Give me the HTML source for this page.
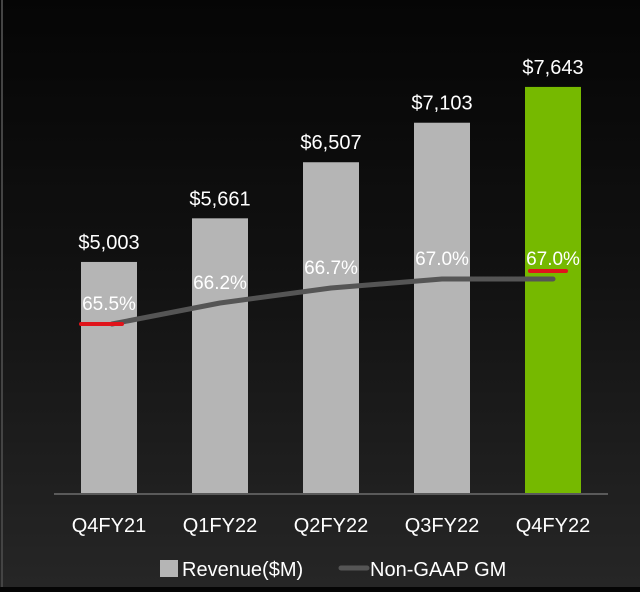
<!DOCTYPE html>
<html><head><meta charset="utf-8"><style>
html,body{margin:0;padding:0}
body{width:640px;height:587px;overflow:hidden;background:linear-gradient(#050505 0%,#111 45%,#262626 100%);font-family:"Liberation Sans",sans-serif}
svg text{font-family:"Liberation Sans",sans-serif}
</style></head><body>
<svg width="640" height="587">
<rect x="1" y="0" width="2" height="587" fill="#444"/>
<g id="bars"></g><g id="line"></g><g id="labels"></g>
<line x1="54" y1="494" x2="608" y2="494" stroke="#5a5a5a" stroke-width="2"/>
<g>
<rect x="160" y="560" width="18" height="17" fill="#b5b5b5"/>
<text x="182" y="576" fill="#fff" font-size="20">Revenue($M)</text>
<line x1="341" y1="568" x2="367" y2="568" stroke="#555" stroke-width="5" stroke-linecap="round"/>
<text x="370" y="576" fill="#fff" font-size="20">Non-GAAP GM</text>
</g>
</svg>
<script>
const categories=["Q4FY21","Q1FY22","Q2FY22","Q3FY22","Q4FY22"];
const revenue=[5003,5661,6507,7103,7643];
const revenueLabels=["$5,003","$5,661","$6,507","$7,103","$7,643"];
const gm=[65.5,66.2,66.7,67.0,67.0];
const gmLabels=["65.5%","66.2%","66.7%","67.0%","67.0%"];
const NS="http://www.w3.org/2000/svg";
const base=494;
function xc(i){return 109+i*111;}
function yRev(v){return base-(v-1503)*0.0663;}
function yGm(v){return 324-(v-65.5)*30;}
function mk(t,a,p){const e=document.createElementNS(NS,t);for(const k in a)e.setAttribute(k,a[k]);document.getElementById(p).appendChild(e);return e;}
categories.forEach((c,i)=>{
 const y=yRev(revenue[i]);
 const b=mk('rect',{x:xc(i)-28,y:y,width:56,height:base-y,fill:i==4?'#76b900':'#b5b5b5'},'bars');
 
 
 const t=mk('text',{x:xc(i),y:y-13,fill:'#fff','font-size':20,'text-anchor':'middle'},'labels');t.textContent=revenueLabels[i];
 
 
 const xl=mk('text',{x:xc(i),y:532,fill:'#fff','font-size':20,'text-anchor':'middle'},'labels');xl.textContent=c;
 
 
 const g=mk('text',{x:xc(i),y:yGm(gm[i])-14,fill:'#fff','font-size':19,'text-anchor':'middle'},'labels');g.textContent=gmLabels[i];
 
 
});
let d='';gm.forEach((v,i)=>{d+=(i?' L':'M')+(i==0?xc(i)+3:xc(i))+' '+yGm(v);});
const p=mk('path',{d:d,fill:'none',stroke:'#555','stroke-width':5,'stroke-linejoin':'round','stroke-linecap':'round'},'line');


const r1=mk('line',{x1:81,y1:yGm(gm[0]),x2:122,y2:yGm(gm[0]),stroke:'#e0141b','stroke-width':4,'stroke-linecap':'round'},'line');


const r2=mk('line',{x1:530,y1:yGm(gm[4])-8,x2:566,y2:yGm(gm[4])-8,stroke:'#e0141b','stroke-width':4,'stroke-linecap':'round'},'line');


</script>
</body></html>
